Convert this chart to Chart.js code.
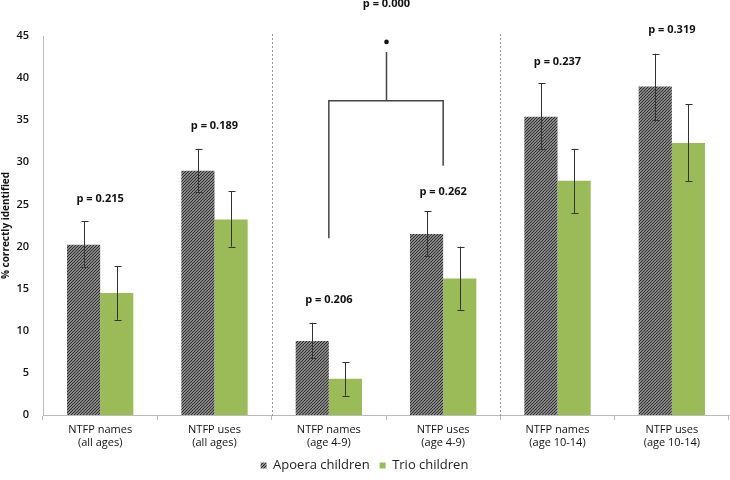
<!DOCTYPE html>
<html><head><meta charset="utf-8">
<script src="https://cdn.jsdelivr.net/npm/chart.js@4/dist/chart.umd.min.js"></script>
<style>html,body{margin:0;padding:0;background:#fff}#wrap{width:730px;height:480px}</style>
</head><body><div id="wrap"><canvas id="c" width="730" height="480"></canvas></div>
<script>
const categories = [["NTFP names","(all ages)"],["NTFP uses","(all ages)"],["NTFP names","(age 4-9)"],["NTFP uses","(age 4-9)"],["NTFP names","(age 10-14)"],["NTFP uses","(age 10-14)"]];
const apoera = [20.2, 29.0, 8.8, 21.5, 35.4, 39.0];
const apoeraErrLow = [17.6, 26.5, 6.75, 18.9, 31.6, 35.0];
const apoeraErrHigh = [23.0, 31.6, 10.95, 24.2, 39.4, 42.9];
const trio = [14.5, 23.2, 4.3, 16.2, 27.8, 32.3];
const trioErrLow = [11.3, 20.0, 2.3, 12.5, 24.0, 27.8];
const trioErrHigh = [17.7, 26.6, 6.3, 20.0, 31.6, 36.9];
const pLabels = ["p = 0.215","p = 0.189","p = 0.206","p = 0.262","p = 0.237","p = 0.319"];
const pLabelY = [25.7, 34.3, 13.7, 26.5, 41.9, 45.7];
// bracket comparing age groups: [left leg bottom, right leg bottom, bar level, stem top, dot, label]
const bracketCats = [2, 3];
const bracketLevels = [21.0, 29.6, 37.3, 43.1, 44.3, 48.8];
const bracketLabel = "p = 0.000";
const separatorsAfter = [1, 3];
const yTicks = [0,5,10,15,20,25,30,35,40,45];

const FONT = "'Open Sans', 'Liberation Sans', sans-serif";

function hatch(){
  const s = 3;
  const c = document.createElement('canvas'); c.width = s; c.height = s;
  const g = c.getContext('2d');
  g.fillStyle = '#cfcfcf'; g.fillRect(0,0,s,s);
  g.strokeStyle = '#2e2e2e'; g.lineWidth = 1.3;
  g.beginPath();
  g.moveTo(-1, s+1); g.lineTo(s+1, -1);
  g.moveTo(-1, 1); g.lineTo(1, -1);
  g.moveTo(s-1, s+1); g.lineTo(s+1, s-1);
  g.stroke();
  return document.getElementById('c').getContext('2d').createPattern(c, 'repeat');
}
const pat = hatch();

const overlay = {
  id: 'overlay',
  beforeDatasetsDraw(chart){
    const {ctx, chartArea, scales:{x,y}} = chart;
    ctx.save();
    ctx.strokeStyle = '#9a9a9a'; ctx.lineWidth = 1; ctx.setLineDash([2,2]);
    separatorsAfter.forEach(i => {
      const px = Math.round((x.getPixelForValue(i) + x.getPixelForValue(i+1))/2) + 0.5;
      ctx.beginPath(); ctx.moveTo(px, chartArea.top - 2); ctx.lineTo(px, chartArea.bottom + 3); ctx.stroke();
    });
    ctx.restore();
  },
  afterDatasetsDraw(chart){
    const {ctx, scales:{x,y}} = chart;
    ctx.save();
    const errs = [[apoeraErrLow, apoeraErrHigh],[trioErrLow, trioErrHigh]];
    ctx.strokeStyle = '#333'; ctx.lineWidth = 1;
    [0,1].forEach(d => {
      const meta = chart.getDatasetMeta(d);
      meta.data.forEach((bar, i) => {
        const px = Math.round(bar.x) + 0.5;
        const lo = y.getPixelForValue(errs[d][0][i]), hi = y.getPixelForValue(errs[d][1][i]);
        ctx.beginPath();
        ctx.moveTo(px, lo); ctx.lineTo(px, hi);
        ctx.moveTo(px-3, Math.round(lo)+0.5); ctx.lineTo(px+4, Math.round(lo)+0.5);
        ctx.moveTo(px-3, Math.round(hi)+0.5); ctx.lineTo(px+4, Math.round(hi)+0.5);
        ctx.stroke();
      });
    });
    ctx.fillStyle = '#111'; ctx.font = 'bold 11px ' + FONT;
    ctx.textAlign = 'center'; ctx.textBaseline = 'middle';
    pLabels.forEach((t, i) => ctx.fillText(t, x.getPixelForValue(i), y.getPixelForValue(pLabelY[i])));
    const xl = x.getPixelForValue(bracketCats[0]), xr = x.getPixelForValue(bracketCats[1]);
    const xm = Math.round((xl + xr)/2) + 0.5;
    const yb = y.getPixelForValue(bracketLevels[2]);
    ctx.strokeStyle = '#444'; ctx.lineWidth = 1.5;
    ctx.beginPath();
    ctx.moveTo(xl, y.getPixelForValue(bracketLevels[0])); ctx.lineTo(xl, yb);
    ctx.lineTo(xr, yb); ctx.lineTo(xr, y.getPixelForValue(bracketLevels[1]));
    ctx.moveTo(xm, yb); ctx.lineTo(xm, y.getPixelForValue(bracketLevels[3]));
    ctx.stroke();
    ctx.fillStyle = '#111';
    ctx.beginPath(); ctx.arc(xm, y.getPixelForValue(bracketLevels[4]), 2.3, 0, Math.PI*2); ctx.fill();
    ctx.fillText(bracketLabel, xm, y.getPixelForValue(bracketLevels[5]));
    ctx.restore();
  }
};

new Chart(document.getElementById('c'), {
  type: 'bar',
  data: {
    labels: categories,
    datasets: [
      {label: 'Apoera children', data: apoera, backgroundColor: pat, borderWidth: 0},
      {label: 'Trio children', data: trio, backgroundColor: '#9bbb59', borderWidth: 0}
    ]
  },
  options: {
    responsive: false, animation: false,
    datasets: {bar: {categoryPercentage: 0.58, barPercentage: 1.0}},
    layout: {padding: {top: 36, right: 1, left: 0, bottom: -2}},
    plugins: {
      tooltip: {enabled: false},
      legend: {
        position: 'bottom',
        labels: {font: {family: FONT, size: 13}, color: '#222', boxWidth: 6, boxHeight: 6, padding: 10}
      }
    },
    scales: {
      x: {
        grid: {display: true, drawOnChartArea: false, offset: true, tickLength: 5, color: '#bbb'},
        border: {color: '#bbb'},
        ticks: {font: {family: FONT, size: 11}, color: '#111', padding: 3, maxRotation: 0, autoSkip: false},
        afterFit(s){ s.height = 34; }
      },
      y: {
        min: 0, max: 45,
        afterBuildTicks(s){ s.ticks = yTicks.map(v => ({value: v})); },
        grid: {display: false},
        border: {color: '#bbb'},
        ticks: {font: {family: FONT, size: 11, weight: '600'}, color: '#111', padding: 6},
        title: {display: true, text: '% correctly identified', font: {family: FONT, size: 10, weight: 'bold'}, color: '#111', padding: {top: 0, bottom: 4}},
        afterFit(s){ s.width = 43; }
      }
    }
  },
  plugins: [overlay]
});
</script>
</body></html>
